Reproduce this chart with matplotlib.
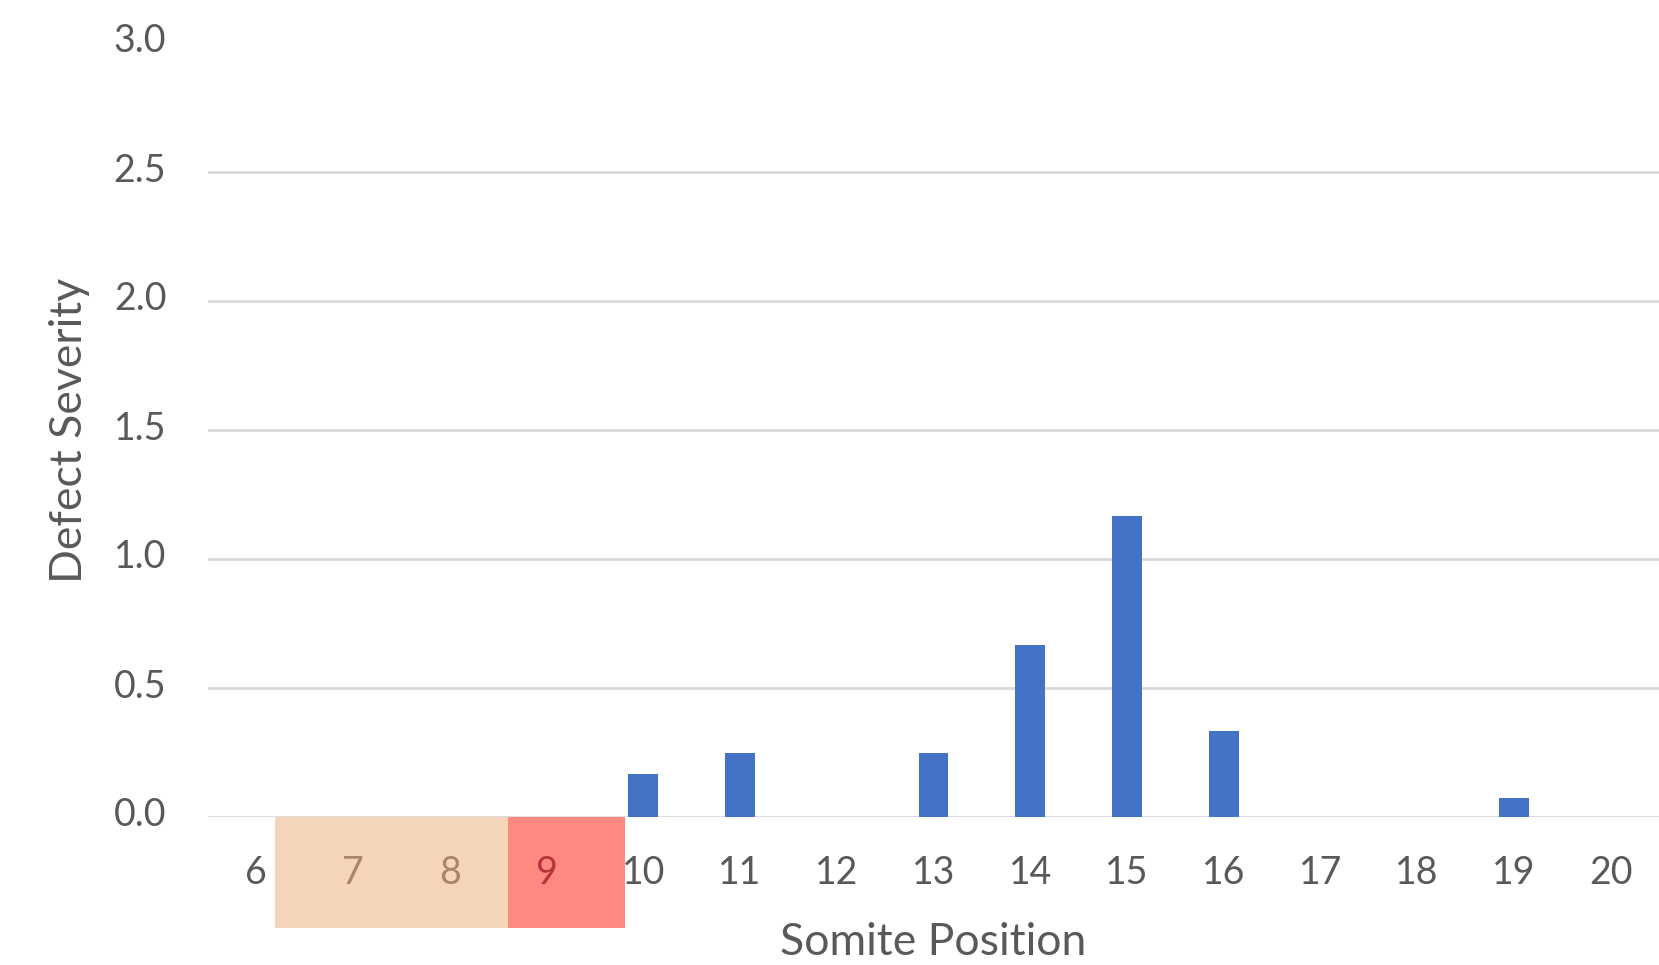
import matplotlib
matplotlib.use("Agg")
import matplotlib.pyplot as plt
import matplotlib.transforms as mtransforms
from matplotlib.patches import Rectangle

# Data
positions = [6, 7, 8, 9, 10, 11, 12, 13, 14, 15, 16, 17, 18, 19, 20]
severity = [0, 0, 0, 0, 0.167, 0.25, 0, 0.25, 0.667, 1.167, 0.333, 0, 0, 0.075, 0]
y_ticks = [0.0, 0.5, 1.0, 1.5, 2.0, 2.5, 3.0]
x_labels = [str(p) for p in positions]

plt.rcParams['font.family'] = ['Lato', 'DejaVu Sans']

fig = plt.figure(figsize=(16.59, 9.65), dpi=100)
ax = fig.add_axes([208 / 1659, 1 - 817 / 965, 1 - 208 / 1659, (817 - 43) / 965])

ax.bar(positions, severity, width=0.31, color='#4472C4', zorder=3)

ax.set_xlim(5.5, 20.5)
ax.set_ylim(0, 3.0)
ax.set_yticks(y_ticks)
ax.set_yticklabels([f"{v:.1f}" for v in y_ticks])
ax.set_xticks(positions)
ax.set_xticklabels(x_labels)

ax.grid(axis='y', color='#D9D9D9', linewidth=2)
ax.set_axisbelow(True)
ax.get_ygridlines()[-1].set_visible(False)
for s in ax.spines.values():
    s.set_visible(False)
ax.tick_params(axis='both', length=0, colors='#595959', labelsize=27)
ax.tick_params(axis='y', pad=30)
ax.tick_params(axis='x', pad=27)

# shift y tick labels slightly up, as in the reference
offset = mtransforms.ScaledTranslation(0, 5 / 100, fig.dpi_scale_trans)
for lab in ax.get_yticklabels():
    lab.set_transform(lab.get_transform() + offset)

ax.set_xlabel('Somite Position', fontsize=32, color='#595959', labelpad=23)
ax.set_ylabel('Defect Severity', fontsize=32, color='#595959', labelpad=17)

# highlighted boxes under x-axis
trans = mtransforms.blended_transform_factory(ax.transData, ax.transAxes)
box_bottom = -0.1434
ax.add_patch(Rectangle((6.19, box_bottom), 8.60 - 6.19, -box_bottom, transform=trans,
                       facecolor='#F4D5B9', edgecolor='none', clip_on=False, zorder=0.3))
ax.add_patch(Rectangle((8.60, box_bottom), 9.81 - 8.60, -box_bottom, transform=trans,
                       facecolor='#FF8980', edgecolor='none', clip_on=False, zorder=0.3))

labels = ax.get_xticklabels()
labels[1].set_color('#A8846A')
labels[2].set_color('#A8846A')
labels[3].set_color('#B8333A')

fig.savefig('out.png', dpi=100)
